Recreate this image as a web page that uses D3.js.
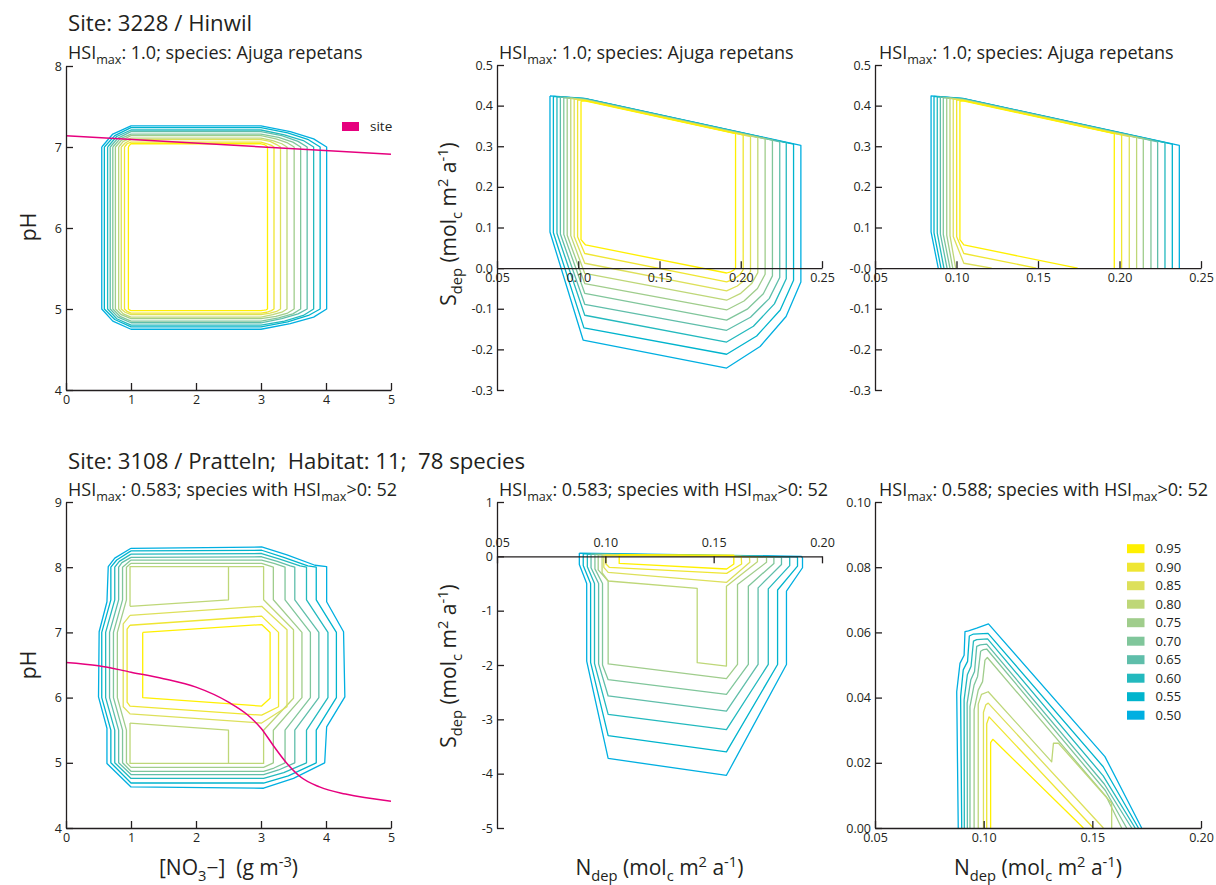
<!DOCTYPE html>
<html>
<head>
<meta charset="utf-8">
<script src="https://cdn.jsdelivr.net/npm/d3@7"></script>
<style>
  body { margin: 0; background: #fff; }
  svg { display: block; font-family: "Open Sans", "Noto Sans", sans-serif; }
  text { white-space: pre; }
</style>
</head>
<body>
<svg id="fig" width="1216" height="885"></svg>
<script>
// ---------- contour levels and their colours ----------
const levels = [0.50, 0.55, 0.60, 0.65, 0.70, 0.75, 0.80, 0.85, 0.90, 0.95];
const levelColors = ["#00afe1", "#00b4cd", "#23b9be", "#5fbeaa", "#80c69b",
                     "#a0cd8c", "#bed778", "#dde05a", "#efe632", "#fff000"];

// ---------- tick values and labels ----------
const no3Ticks = [0, 1, 2, 3, 4, 5];
const phTicksHinwil = [4, 5, 6, 7, 8];
const phTicksPratteln = [4, 5, 6, 7, 8, 9];
const ndepTicksHinwil = [0.05, 0.10, 0.15, 0.20, 0.25];
const ndepLabelsHinwil = ["0.05", "0.10", "0.15", "0.20", "0.25"];
const sdepTicksHinwil = [-0.3, -0.2, -0.1, 0, 0.1, 0.2, 0.3, 0.4, 0.5];
const sdepLabelsMid = ["-0.3", "-0.2", "-0.1", "0.0", "0.1", "0.2", "0.3", "0.4", "0.5"];
const sdepLabelsRight = ["-0.3", "-0.2", "-0.1", "-0.0", "0.1", "0.2", "0.3", "0.4", "0.5"];
const ndepTicksPratteln = [0.05, 0.10, 0.15, 0.20];
const ndepLabelsPratteln = ["0.05", "0.10", "0.15", "0.20"];
const sdepTicksPratteln = [-5, -4, -3, -2, -1, 0, 1];
const sdepLabelsPratteln = ["-5", "-4", "-3", "-2", "-1", "0", "1"];
const sposTicks = [0, 0.02, 0.04, 0.06, 0.08, 0.10];
const sposLabels = ["0.00", "0.02", "0.04", "0.06", "0.08", "0.10"];

// ---------- site trajectories ----------
const hinwilSiteNo3 = [0, 5];
const hinwilSitePh = [7.14, 6.91];
const prattelnSiteNo3 = [0, 0.5, 1.0, 1.5, 2.0, 2.5, 2.8, 3.0, 3.2, 3.4, 3.6, 3.9, 4.3, 5.0];
const prattelnSitePh = [6.54, 6.49, 6.39, 6.29, 6.16, 5.93, 5.73, 5.53, 5.25, 4.99, 4.79, 4.63, 4.52, 4.41];

// ---------- Hinwil: HSI over [NO3-] x pH ----------
const hinwilPhContours = [
  {lv: 0.50, closed: true, pts: [0.55,7.0, 0.72,7.16, 1.0,7.26, 3.0,7.26, 3.45,7.19, 3.81,7.10, 4.01,7.0, 4.01,5.0, 3.81,4.90, 3.45,4.82, 3.0,4.75, 1.0,4.75, 0.72,4.85, 0.55,5.0]},
  {lv: 0.55, closed: true, pts: [0.59,7.0, 0.75,7.14, 1.0,7.24, 3.0,7.24, 3.41,7.175, 3.73,7.09, 3.91,7.0, 3.91,5.0, 3.73,4.92, 3.41,4.84, 3.0,4.78, 1.0,4.78, 0.75,4.87, 0.59,5.0]},
  {lv: 0.60, closed: true, pts: [0.64,7.0, 0.78,7.13, 1.0,7.21, 3.0,7.21, 3.36,7.15, 3.65,7.08, 3.81,7.0, 3.81,5.0, 3.65,4.92, 3.36,4.85, 3.0,4.80, 1.0,4.80, 0.78,4.88, 0.64,5.0]},
  {lv: 0.65, closed: true, pts: [0.68,7.0, 0.80,7.11, 1.0,7.19, 3.0,7.19, 3.32,7.14, 3.57,7.07, 3.71,7.0, 3.71,5.0, 3.57,4.94, 3.32,4.88, 3.0,4.83, 1.0,4.83, 0.80,4.90, 0.68,5.0]},
  {lv: 0.70, closed: true, pts: [0.72,7.0, 0.83,7.10, 1.0,7.16, 3.0,7.16, 3.27,7.12, 3.49,7.06, 3.61,7.0, 3.61,5.0, 3.49,4.94, 3.27,4.89, 3.0,4.85, 1.0,4.85, 0.83,4.91, 0.72,5.0]},
  {lv: 0.75, closed: true, pts: [0.76,7.0, 0.85,7.08, 1.0,7.14, 3.0,7.14, 3.23,7.10, 3.41,7.05, 3.51,7.0, 3.51,5.0, 3.41,4.95, 3.23,4.91, 3.0,4.88, 1.0,4.88, 0.85,4.93, 0.76,5.0]},
  {lv: 0.80, closed: true, pts: [0.81,7.0, 0.88,7.07, 1.0,7.11, 3.0,7.11, 3.18,7.08, 3.32,7.04, 3.40,7.0, 3.40,5.0, 3.32,4.96, 3.18,4.93, 3.0,4.90, 1.0,4.90, 0.88,4.94, 0.81,5.0]},
  {lv: 0.85, closed: true, pts: [0.85,7.0, 0.91,7.05, 1.0,7.09, 3.0,7.09, 3.14,7.07, 3.24,7.03, 3.30,7.0, 3.30,5.0, 3.24,4.97, 3.14,4.95, 3.0,4.93, 1.0,4.93, 0.91,4.96, 0.85,5.0]},
  {lv: 0.90, closed: true, pts: [0.90,7.0, 0.94,7.04, 1.0,7.06, 3.0,7.06, 3.09,7.04, 3.16,7.02, 3.20,7.0, 3.20,5.0, 3.16,4.98, 3.09,4.96, 3.0,4.95, 1.0,4.95, 0.94,4.97, 0.90,5.0]},
  {lv: 0.95, closed: true, pts: [0.96,7.0, 0.975,7.02, 1.0,7.04, 3.0,7.04, 3.05,7.03, 3.08,7.015, 3.10,7.0, 3.10,5.0, 3.08,4.99, 3.05,4.985, 3.0,4.98, 1.0,4.98, 0.975,4.99, 0.96,5.0]}
];

// ---------- Hinwil: HSI over Ndep x Sdep ----------
const hinwilDepContours = [
  {lv: 0.50, closed: true, pts: [0.0826,0.424, 0.104,0.418, 0.2370,0.302, 0.2370,-0.034, 0.2279,-0.119, 0.2119,-0.193, 0.1913,-0.246, 0.103,-0.177, 0.0826,0.089]},
  {lv: 0.55, closed: true, pts: [0.0847,0.423, 0.104,0.417, 0.2325,0.305, 0.2325,-0.030, 0.2243,-0.103, 0.2098,-0.167, 0.1913,-0.212, 0.1035,-0.147, 0.0847,0.087]},
  {lv: 0.60, closed: true, pts: [0.0869,0.422, 0.104,0.417, 0.2280,0.309, 0.2280,-0.026, 0.2207,-0.088, 0.2078,-0.143, 0.1913,-0.182, 0.104,-0.116, 0.0869,0.086]},
  {lv: 0.65, closed: true, pts: [0.0890,0.421, 0.104,0.416, 0.2240,0.311, 0.2240,-0.023, 0.2175,-0.075, 0.2060,-0.121, 0.1913,-0.153, 0.104,-0.089, 0.0890,0.084]},
  {lv: 0.70, closed: true, pts: [0.0911,0.420, 0.104,0.415, 0.2195,0.315, 0.2195,-0.019, 0.2139,-0.063, 0.2040,-0.101, 0.1913,-0.128, 0.104,-0.062, 0.0911,0.083]},
  {lv: 0.75, closed: true, pts: [0.0932,0.419, 0.104,0.415, 0.2150,0.318, 0.2150,-0.015, 0.2103,-0.050, 0.2020,-0.081, 0.1913,-0.103, 0.104,-0.038, 0.0932,0.081]},
  {lv: 0.80, closed: true, pts: [0.0954,0.418, 0.104,0.414, 0.2105,0.321, 0.2105,-0.011, 0.2067,-0.038, 0.2000,-0.062, 0.1913,-0.079, 0.104,-0.013, 0.0954,0.080]},
  {lv: 0.85, closed: true, pts: [0.0975,0.416, 0.104,0.413, 0.2060,0.324, 0.2060,-0.008, 0.2031,-0.027, 0.1979,-0.044, 0.1913,-0.056, 0.104,0.012, 0.0975,0.078]},
  {lv: 0.90, closed: true, pts: [0.0996,0.414, 0.104,0.413, 0.2015,0.328, 0.2015,-0.004, 0.1995,-0.016, 0.1959,-0.027, 0.1913,-0.034, 0.104,0.036, 0.0996,0.077]},
  {lv: 0.95, closed: true, pts: [0.1017,0.411, 0.104,0.412, 0.1968,0.331, 0.1968,0.0, 0.1957,-0.005, 0.1938,-0.009, 0.1913,-0.012, 0.1045,0.057, 0.1017,0.070]}
];

// ---------- Hinwil: HSI over Ndep x Sdep (non-negative Sdep) ----------
const hinwilDepPositive = [
  {lv: 0.50, closed: false, pts: [0.0888,0, 0.0844,0.089, 0.0844,0.424, 0.104,0.418, 0.2367,0.302, 0.2367,0]},
  {lv: 0.55, closed: false, pts: [0.0905,0, 0.0862,0.087, 0.0862,0.423, 0.104,0.417, 0.2324,0.305, 0.2324,0]},
  {lv: 0.60, closed: false, pts: [0.0923,0, 0.0882,0.086, 0.0882,0.422, 0.104,0.417, 0.2279,0.309, 0.2279,0]},
  {lv: 0.65, closed: false, pts: [0.0942,0, 0.0901,0.084, 0.0901,0.421, 0.104,0.416, 0.2234,0.311, 0.2234,0]},
  {lv: 0.70, closed: false, pts: [0.0960,0, 0.0919,0.083, 0.0919,0.420, 0.104,0.415, 0.2193,0.315, 0.2193,0]},
  {lv: 0.75, closed: false, pts: [0.0977,0, 0.0940,0.081, 0.0940,0.419, 0.104,0.415, 0.2146,0.318, 0.2146,0]},
  {lv: 0.80, closed: false, pts: [0.0995,0, 0.0960,0.080, 0.0960,0.418, 0.104,0.414, 0.2105,0.321, 0.2105,0]},
  {lv: 0.85, closed: false, pts: [0.1216,0, 0.1045,0.012, 0.0980,0.078, 0.0980,0.416, 0.104,0.413, 0.2060,0.324, 0.2060,0]},
  {lv: 0.90, closed: false, pts: [0.1490,0, 0.1045,0.036, 0.1001,0.077, 0.1001,0.414, 0.104,0.413, 0.2013,0.328, 0.2013,0]},
  {lv: 0.95, closed: false, pts: [0.1743,0, 0.1045,0.057, 0.1021,0.070, 0.1021,0.411, 0.104,0.412, 0.1968,0.331, 0.1968,0]}
];

// ---------- Pratteln: HSI over [NO3-] x pH ----------
const prattelnPhContours = [
  {lv: 0.50, closed: true, pts: [1.0,8.29, 3.01,8.31, 3.40,8.19, 3.83,8.03, 4.01,8.01, 4.01,7.47, 4.27,7.01, 4.29,6.01, 4.01,5.55, 3.98,5.0, 3.50,4.76, 3.04,4.61, 1.0,4.63, 0.63,4.99, 0.63,5.53, 0.50,6.01, 0.51,7.01, 0.63,7.47, 0.65,8.01, 0.75,8.14]},
  {lv: 0.55, closed: true, pts: [1.0,8.25, 3.01,8.26, 3.35,8.15, 3.72,8.02, 3.85,8.0, 3.85,7.5, 4.16,7.0, 4.16,6.0, 3.85,5.5, 3.85,5.0, 3.42,4.80, 3.04,4.69, 1.0,4.69, 0.69,5.0, 0.69,5.5, 0.55,6.0, 0.55,7.0, 0.69,7.5, 0.69,8.0, 0.78,8.11]},
  {lv: 0.60, closed: true, pts: [1.0,8.20, 3.01,8.21, 3.30,8.12, 3.60,8.02, 3.70,8.0, 3.70,7.5, 4.03,7.0, 4.03,6.0, 3.70,5.5, 3.70,5.0, 3.35,4.85, 3.04,4.76, 1.0,4.76, 0.75,5.0, 0.75,5.5, 0.61,6.0, 0.61,7.0, 0.75,7.5, 0.75,8.0, 0.82,8.09]},
  {lv: 0.65, closed: true, pts: [1.0,8.15, 3.01,8.16, 3.25,8.09, 3.45,8.02, 3.52,8.0, 3.52,7.5, 3.89,7.0, 3.89,6.0, 3.52,5.5, 3.52,5.0, 3.27,4.89, 3.04,4.82, 1.0,4.82, 0.81,5.0, 0.81,5.5, 0.67,6.0, 0.67,7.0, 0.81,7.5, 0.81,8.0, 0.86,8.07]},
  {lv: 0.70, closed: true, pts: [1.0,8.11, 3.01,8.11, 3.20,8.06, 3.37,8.0, 3.37,7.5, 3.76,7.0, 3.76,6.0, 3.37,5.5, 3.37,5.0, 3.20,4.92, 3.04,4.87, 1.0,4.87, 0.87,5.0, 0.87,5.5, 0.73,6.0, 0.73,7.0, 0.87,7.5, 0.87,8.0]},
  {lv: 0.75, closed: true, pts: [1.0,8.06, 3.01,8.06, 3.19,8.0, 3.19,7.5, 3.63,7.0, 3.63,6.0, 3.19,5.5, 3.19,5.0, 3.04,4.93, 1.0,4.93, 0.93,5.0, 0.93,5.5, 0.79,6.0, 0.79,7.0, 0.93,7.5, 0.93,8.0]},
  {lv: 0.80, closed: false, pts: [0.985,7.40, 2.50,7.50, 2.50,8.01, 3.04,8.01, 3.04,7.50, 3.50,7.04, 3.50,5.99, 3.04,5.50, 3.04,4.99, 2.50,4.99, 2.50,5.50, 0.985,5.61]},
  {lv: 0.80, closed: false, pts: [0.985,7.40, 0.985,8.01, 2.50,8.01]},
  {lv: 0.80, closed: false, pts: [0.985,5.61, 0.985,4.99, 2.50,4.99]},
  {lv: 0.85, closed: true, pts: [0.985,7.26, 3.01,7.40, 3.40,7.04, 3.40,5.86, 3.01,5.61, 0.985,5.75, 0.88,5.86, 0.88,7.13]},
  {lv: 0.90, closed: true, pts: [0.985,7.11, 3.01,7.25, 3.27,7.0, 3.27,5.86, 3.01,5.73, 0.985,5.87, 0.94,5.93, 0.94,7.05]},
  {lv: 0.95, closed: true, pts: [1.18,7.0, 3.01,7.12, 3.14,7.0, 3.14,5.99, 3.01,5.87, 1.18,6.0]}
];

// ---------- Pratteln: HSI over Ndep x Sdep ----------
const prattelnDepContours = [
  {lv: 0.50, closed: true, pts: [0.088,0.06, 0.1905,0.0, 0.1910,-0.03, 0.1910,-0.21, 0.1836,-0.64, 0.1836,-1.99, 0.1559,-4.03, 0.1013,-3.72, 0.0914,-1.93, 0.0914,-0.5, 0.088,-0.15]},
  {lv: 0.55, closed: true, pts: [0.0898,0.05, 0.1885,-0.01, 0.1887,-0.03, 0.1887,-0.18, 0.1795,-0.62, 0.1795,-1.99, 0.1559,-3.60, 0.1013,-3.30, 0.0932,-1.95, 0.0932,-0.5, 0.0898,-0.17]},
  {lv: 0.60, closed: true, pts: [0.0917,0.045, 0.1849,-0.01, 0.1851,-0.03, 0.1851,-0.17, 0.1752,-0.60, 0.1752,-1.99, 0.1559,-3.19, 0.1013,-2.91, 0.095,-1.97, 0.095,-0.5, 0.0917,-0.19]},
  {lv: 0.65, closed: true, pts: [0.0934,0.04, 0.1811,-0.01, 0.1813,-0.03, 0.1813,-0.15, 0.1705,-0.58, 0.1705,-1.99, 0.1559,-2.85, 0.1013,-2.57, 0.0969,-1.98, 0.0969,-0.5, 0.0934,-0.21]},
  {lv: 0.70, closed: true, pts: [0.0952,0.035, 0.1776,-0.01, 0.1778,-0.03, 0.1778,-0.13, 0.166,-0.55, 0.166,-1.99, 0.1559,-2.54, 0.1013,-2.27, 0.0987,-2.0, 0.0987,-0.5, 0.0952,-0.23]},
  {lv: 0.75, closed: true, pts: [0.0967,0.03, 0.1742,-0.01, 0.1744,-0.03, 0.1744,-0.11, 0.161,-0.52, 0.161,-1.99, 0.1559,-2.25, 0.1013,-1.98, 0.1013,-0.454, 0.0967,-0.25]},
  {lv: 0.80, closed: true, pts: [0.0985,0.025, 0.1700,-0.01, 0.1702,-0.03, 0.1702,-0.10, 0.1559,-0.55, 0.1559,-2.02, 0.1424,-1.958, 0.1424,-0.589, 0.1013,-0.454, 0.0985,-0.30]},
  {lv: 0.85, closed: true, pts: [0.0993,0.02, 0.1665,-0.005, 0.1667,-0.11, 0.156,-0.478, 0.1013,-0.294, 0.0993,-0.202]},
  {lv: 0.90, closed: true, pts: [0.1003,0.02, 0.1627,0.0, 0.1629,-0.141, 0.156,-0.313, 0.1018,-0.202, 0.1003,-0.141]},
  {lv: 0.95, closed: true, pts: [0.1064,0.03, 0.1593,0.02, 0.1593,-0.141, 0.156,-0.233, 0.1064,-0.13]}
];

// ---------- Pratteln: HSI over Ndep x Sdep (non-negative Sdep) ----------
const prattelnDepPositive = [
  {lv: 0.50, closed: false, pts: [0.0883,0, 0.0876,0.0418, 0.0891,0.0505, 0.0910,0.0530, 0.0914,0.0602, 0.0930,0.0605, 0.0968,0.0613, 0.1022,0.0626, 0.1558,0.0219, 0.1727,0]},
  {lv: 0.55, closed: false, pts: [0.0899,0, 0.0894,0.0403, 0.0906,0.0485, 0.0926,0.0511, 0.0934,0.0589, 0.0953,0.0595, 0.1020,0.0597, 0.1550,0.0188, 0.1712,0]},
  {lv: 0.60, closed: false, pts: [0.0911,0, 0.0910,0.0393, 0.0925,0.0470, 0.0942,0.0496, 0.0953,0.0573, 0.0968,0.0578, 0.1018,0.0580, 0.1550,0.0160, 0.1697,0]},
  {lv: 0.65, closed: false, pts: [0.0925,0, 0.0924,0.0383, 0.0941,0.0455, 0.0958,0.0480, 0.0968,0.0557, 0.0984,0.0562, 0.1014,0.0564, 0.1555,0.0135, 0.1681,0]},
  {lv: 0.70, closed: false, pts: [0.0937,0, 0.0937,0.0372, 0.0956,0.0439, 0.0972,0.0465, 0.0986,0.0542, 0.0999,0.0547, 0.1014,0.0549, 0.1560,0.0115, 0.1658,0]},
  {lv: 0.75, closed: false, pts: [0.0956,0, 0.0956,0.0362, 0.0975,0.0423, 0.0995,0.0449, 0.1006,0.0515, 0.1017,0.0523, 0.1565,0.0095, 0.1635,0]},
  {lv: 0.80, closed: false, pts: [0.0975,0, 0.0975,0.0380, 0.0990,0.0410, 0.1021,0.0418, 0.1313,0.0203, 0.1321,0.0260, 0.1344,0.0260, 0.1589,0.0076, 0.1589,0]},
  {lv: 0.85, closed: false, pts: [0.0999,0, 0.0999,0.0355, 0.1010,0.0378, 0.1021,0.0383, 0.1551,0]},
  {lv: 0.90, closed: false, pts: [0.1014,0, 0.1014,0.0320, 0.1025,0.0341, 0.1505,0]},
  {lv: 0.95, closed: false, pts: [0.1032,0, 0.1032,0.0262, 0.1042,0.0272, 0.1052,0.0266, 0.1459,0]}
];

// ---------- drawing ----------
const svg = d3.select("#fig");
const ink = "#231f20";
const siteColor = "#e6007e";
const colorOf = lv => levelColors[levels.indexOf(lv)];
const pairs = flat => d3.range(0, flat.length, 2).map(i => [flat[i], flat[i + 1]]);

// text with sub/superscript runs: parts are strings or [string, "sub"|"sup"]
function richText(parent, x, y, parts, size, opts = {}) {
  const t = parent.append("text")
    .attr("x", x).attr("y", y)
    .attr("font-size", size)
    .attr("fill", ink)
    .attr("text-anchor", opts.anchor || "start");
  if (opts.rotate) t.attr("transform", `rotate(-90 ${x} ${y})`);
  let shift = 0;
  parts.forEach(p => {
    const [s, kind] = typeof p === "string" ? [p, "n"] : p;
    const off = kind === "sub" ? size * 0.3 : kind === "sup" ? -size * 0.4 : 0;
    t.append("tspan")
      .attr("dy", off - shift)
      .attr("font-size", kind === "n" ? size : size * 0.7)
      .text(s);
    shift = off;
  });
  return t;
}

function styleAxis(sel, fontSize) {
  sel.select(".domain").attr("stroke", ink).attr("stroke-width", 1.3);
  sel.selectAll(".tick line").attr("stroke", ink).attr("stroke-width", 1.3);
  sel.selectAll(".tick text").attr("fill", ink)
    .attr("font-size", fontSize)
    .attr("font-family", '"Open Sans", "Noto Sans", sans-serif');
  sel.attr("font-family", null).attr("font-size", null);
}

function drawPanel(cfg) {
  const g = svg.append("g");
  const x = d3.scaleLinear().domain(cfg.xDomain).range(cfg.xRange);
  const y = d3.scaleLinear().domain(cfg.yDomain).range(cfg.yRange);
  const line = d3.line().x(d => x(d[0])).y(d => y(d[1]));

  cfg.contours.forEach(c => {
    const pts = pairs(c.pts);
    if (c.closed) pts.push(pts[0]);
    g.append("path")
      .attr("d", line(pts))
      .attr("fill", "none")
      .attr("stroke", colorOf(c.lv))
      .attr("stroke-width", 1.3)
      .attr("stroke-linejoin", "round");
  });

  if (cfg.site) {
    const siteLine = d3.line().x(d => x(d[0])).y(d => y(d[1])).curve(d3.curveMonotoneX);
    g.append("path")
      .attr("d", siteLine(d3.zip(cfg.site[0], cfg.site[1])))
      .attr("fill", "none")
      .attr("stroke", siteColor)
      .attr("stroke-width", 1.5);
  }

  const yAxis = d3.axisLeft(y)
    .tickValues(cfg.yTicks)
    .tickFormat((d, i) => cfg.yLabels[i])
    .tickSizeInner(-7).tickSizeOuter(0).tickPadding(4);
  g.append("g")
    .attr("transform", `translate(${cfg.xRange[0]},0)`)
    .call(yAxis)
    .call(s => styleAxis(s, 12.5));

  const xAxis = (cfg.xLabelsAbove ? d3.axisTop(x) : d3.axisBottom(x))
    .tickValues(cfg.xTicks)
    .tickFormat((d, i) => cfg.xLabels[i])
    .tickSizeInner(-7).tickSizeOuter(0)
    .tickPadding(cfg.xLabelsAbove ? 9 : 5);
  g.append("g")
    .attr("transform", `translate(0,${y(cfg.xAxisAt)})`)
    .call(xAxis)
    .call(s => styleAxis(s, 12.5));

  return {g, x, y};
}

// top row: Hinwil
drawPanel({
  xDomain: [0, 5], xRange: [66, 391], yDomain: [4, 8], yRange: [390, 66],
  contours: hinwilPhContours, site: [hinwilSiteNo3, hinwilSitePh],
  xTicks: no3Ticks, xLabels: no3Ticks.map(String), xAxisAt: 4,
  yTicks: phTicksHinwil, yLabels: phTicksHinwil.map(String)
});
drawPanel({
  xDomain: [0.05, 0.25], xRange: [497, 822], yDomain: [-0.3, 0.5], yRange: [390, 65],
  contours: hinwilDepContours,
  xTicks: ndepTicksHinwil, xLabels: ndepLabelsHinwil, xAxisAt: 0,
  yTicks: sdepTicksHinwil, yLabels: sdepLabelsMid
});
drawPanel({
  xDomain: [0.05, 0.25], xRange: [875, 1201], yDomain: [-0.3, 0.5], yRange: [390, 65],
  contours: hinwilDepPositive,
  xTicks: ndepTicksHinwil, xLabels: ndepLabelsHinwil, xAxisAt: 0,
  yTicks: sdepTicksHinwil, yLabels: sdepLabelsRight
});

// bottom row: Pratteln
drawPanel({
  xDomain: [0, 5], xRange: [66, 391], yDomain: [4, 9], yRange: [828, 502],
  contours: prattelnPhContours, site: [prattelnSiteNo3, prattelnSitePh],
  xTicks: no3Ticks, xLabels: no3Ticks.map(String), xAxisAt: 4,
  yTicks: phTicksPratteln, yLabels: phTicksPratteln.map(String)
});
drawPanel({
  xDomain: [0.05, 0.20], xRange: [497, 822], yDomain: [-5, 1], yRange: [828, 502],
  contours: prattelnDepContours,
  xTicks: ndepTicksPratteln, xLabels: ndepLabelsPratteln, xAxisAt: 0, xLabelsAbove: true,
  yTicks: sdepTicksPratteln, yLabels: sdepLabelsPratteln
});
drawPanel({
  xDomain: [0.05, 0.20], xRange: [875, 1201], yDomain: [0, 0.10], yRange: [828, 502],
  contours: prattelnDepPositive,
  xTicks: ndepTicksPratteln, xLabels: ndepLabelsPratteln, xAxisAt: 0,
  yTicks: sposTicks, yLabels: sposLabels
});

// site legend (top-left panel)
svg.append("rect").attr("x", 342).attr("y", 122).attr("width", 17).attr("height", 9).attr("fill", siteColor);
svg.append("text").attr("x", 370).attr("y", 131).attr("font-size", 13.5).attr("fill", ink).text("site");

// contour level legend (bottom-right panel)
const legendRows = levels.slice().reverse();
legendRows.forEach((lv, i) => {
  const cy = 548.7 + i * 18.5;
  svg.append("rect").attr("x", 1127).attr("y", cy - 4.5).attr("width", 17.5).attr("height", 9).attr("fill", colorOf(lv));
  svg.append("text").attr("x", 1155.5).attr("y", cy + 4.6).attr("font-size", 13).attr("fill", ink).text(lv.toFixed(2));
});

// titles
svg.append("text").attr("x", 68).attr("y", 31).attr("font-size", 22.2).attr("fill", ink).text("Site: 3228 / Hinwil");
svg.append("text").attr("x", 68).attr("y", 469).attr("font-size", 22.2).attr("fill", ink)
  .text("Site: 3108 / Pratteln;  Habitat: 11;  78 species");

const subHinwil = ["HSI", ["max", "sub"], ": 1.0; species: Ajuga repetans"];
richText(svg, 68, 59, subHinwil, 18);
richText(svg, 499, 59, subHinwil, 18);
richText(svg, 879, 59, subHinwil, 18);
const subPratteln = ["HSI", ["max", "sub"], ": 0.583; species with HSI", ["max", "sub"], ">0: 52"];
richText(svg, 68, 496, subPratteln, 18);
richText(svg, 499, 496, subPratteln, 18);
richText(svg, 879, 496, ["HSI", ["max", "sub"], ": 0.588; species with HSI", ["max", "sub"], ">0: 52"], 18);

// axis titles
const sdepTitle = ["S", ["dep", "sub"], " (mol", ["c", "sub"], " m", ["2", "sup"], " a", ["-1", "sup"], ")"];
const ndepTitle = ["N", ["dep", "sub"], " (mol", ["c", "sub"], " m", ["2", "sup"], " a", ["-1", "sup"], ")"];
richText(svg, 36, 227, ["pH"], 21, {anchor: "middle", rotate: true});
richText(svg, 36, 665, ["pH"], 21, {anchor: "middle", rotate: true});
richText(svg, 456, 224, sdepTitle, 21, {anchor: "middle", rotate: true});
richText(svg, 456, 666, sdepTitle, 21, {anchor: "middle", rotate: true});
richText(svg, 228.5, 875, ["[NO", ["3", "sub"], "\u2212]  (g m", ["-3", "sup"], ")"], 21, {anchor: "middle"});
richText(svg, 659.5, 875, ndepTitle, 21, {anchor: "middle"});
richText(svg, 1038, 875, ndepTitle, 21, {anchor: "middle"});
</script>
</body>
</html>
